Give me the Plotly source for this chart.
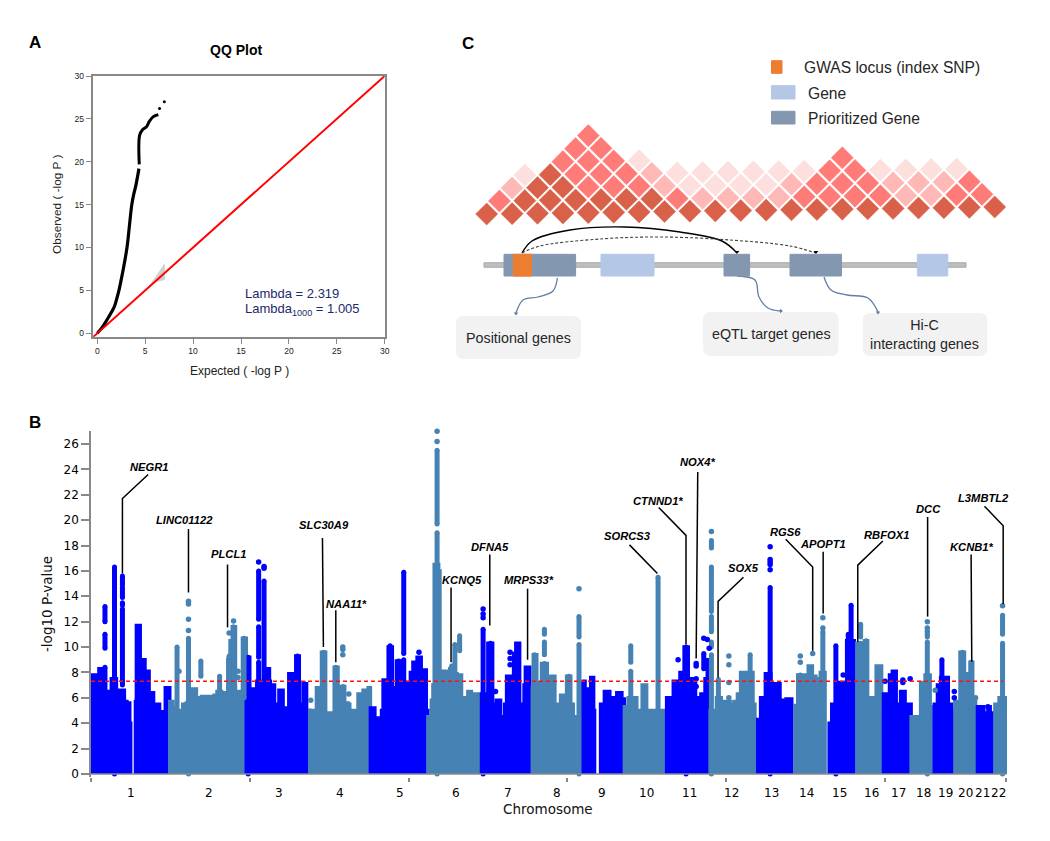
import plotly.graph_objects as go

BLUE = "#0000FF"
STEEL = "#4682B4"
SANS = "Liberation Sans"
DEJA = "DejaVu Sans"

# ---------- Panel A: QQ ----------
QQ_EXPECTED = [0, 0.45, 1.0, 1.4, 1.78, 2.0, 2.26, 2.45, 2.7, 3.1, 3.35, 3.6, 3.8, 4.0, 4.35]
QQ_OBSERVED = [0, 0.6, 1.55, 2.3, 3.1, 3.9, 5.0, 6.0, 7.4, 10, 12.5, 15, 16.2, 17.1, 19.2]
QQ_EXPECTED_B = [4.38, 4.42, 4.7, 5.15, 5.43, 5.85, 6.37]
QQ_OBSERVED_B = [19.7, 23.1, 23.7, 24.1, 24.7, 25.26, 25.5]
QQ_TAIL_X = [6.5, 7.0]
QQ_TAIL_Y = [26.2, 27.0]
CI_X = [5.2, 6.2, 7.05, 7.05, 6.2, 5.2]
CI_Y = [5.2, 6.8, 8.2, 6.2, 6.0, 5.2]
REF_X = [-0.48, 30]
REF_Y = [-0.48, 30]

# ---------- Panel B: Manhattan (Mb along the genome, -log10 P) ----------
GWS = 7.3
Y_TICKS = list(range(0, 28, 2))
X_TICKS = [0, 500, 1000, 1500, 2000, 2500, 2883]
CHR_NAMES = [str(i) for i in range(1, 23)]
CHR_MID = [125, 371, 592, 785, 972, 1149, 1314, 1467, 1610, 1750, 1885, 2018,
           2144, 2255, 2359, 2457, 2542, 2622, 2692, 2753, 2808, 2857]

# upper edge of the dense cloud: each height holds from its position to the next one
CHR1A_X = [0, 2, 15, 25, 36, 50, 64, 80, 105, 113, 122, 125]
CHR1A_Y = [4.5, 7.8, 5.0, 8.3, 6.2, 6.5, 7.5, 6.6, 5.7, 5.6, 4, 3]
CHR1B_X = [140, 143, 155, 170, 183, 197, 216, 234, 248]
CHR1B_Y = [5.7, 11.7, 9, 8.1, 6.4, 5.5, 4.9, 6.8, 5]
CHR2_X = [248, 258, 265, 279, 289, 300, 313, 332, 348, 382, 388, 397, 411, 421, 431, 438, 445, 455, 468, 477, 489]
CHR2_Y = [5.7, 5.2, 5.0, 4.9, 5.5, 5.6, 6.7, 6.0, 6.1, 5.2, 6.2, 6.5, 6.1, 6.4, 9.0, 10.5, 11.6, 6.5, 6.1, 10.7, 6]
CHR3_X = [489, 500, 515, 522, 547, 562, 565, 578, 586, 592, 605, 623, 636, 645, 656, 668, 679, 689]
CHR3_Y = [9.2, 6.7, 6.2, 7.3, 8.3, 7.3, 7.0, 5.5, 3.8, 6.6, 5.2, 7.9, 5.3, 9.3, 5.5, 7.1, 5.0, 5.0]
CHR4_X = [689, 700, 710, 726, 739, 747, 760, 766, 778, 789, 799, 810, 815, 830, 841, 857, 873, 880]
CHR4_Y = [5, 4.4, 6.8, 9.6, 4.5, 4.8, 3.5, 8.4, 5.5, 6.9, 5.6, 5.5, 5, 4, 6.3, 6.6, 6.8, 5]
CHR5_X = [880, 894, 899, 915, 920, 936, 949, 951, 962, 975, 979, 991, 998, 1006, 1014, 1027, 1040, 1043, 1056, 1061]
CHR5_Y = [5.2, 4.2, 4.4, 5, 7.4, 10.0, 5.8, 6.8, 8.9, 6.2, 7, 7.2, 7.0, 8, 8.8, 9.2, 7.5, 8.2, 5, 5]
CHR6_X = [1061, 1072, 1077, 1081, 1095, 1099, 1105, 1120, 1125, 1130, 1141, 1153, 1167, 1177, 1187, 1198, 1208, 1222, 1230]
CHR6_Y = [4.5, 5.8, 7, 16.5, 16, 7, 8.1, 4.5, 6.3, 8.3, 7.9, 7.8, 6, 5.5, 6.5, 5.5, 6.3, 5.8, 5.8]
CHR7_X = [1230, 1240, 1250, 1265, 1277, 1290, 1303, 1309, 1324, 1331, 1338, 1350, 1361, 1364, 1368, 1382, 1390]
CHR7_Y = [6.3, 6.3, 10.3, 5.5, 5.8, 4.5, 5.5, 7.7, 5, 9.5, 10.3, 5.5, 5, 7, 8.4, 5, 5]
CHR8_X = [1390, 1393, 1404, 1419, 1437, 1461, 1472, 1479, 1493, 1498, 1511, 1519, 1535]
CHR8_Y = [6.8, 9.4, 7.2, 8.7, 7.7, 5.2, 5.5, 6.2, 5, 7.7, 5.5, 4.5, 4.5]
CHR9A_X = [1538, 1552, 1556, 1570, 1574, 1583, 1586]
CHR9A_Y = [7.2, 7.3, 6.7, 6.6, 7.6, 5, 5]
CHR9B_X = [1605, 1617, 1634, 1656, 1672, 1680]
CHR9B_Y = [5.5, 6.5, 6.0, 6.4, 5.9, 5.9]
CHR10_X = [1680, 1692, 1719, 1736, 1750, 1813]
CHR10_Y = [5.3, 6, 5, 7, 5, 5]
CHR11_X = [1813, 1824, 1834, 1855, 1868, 1881, 1890, 1904, 1913, 1921, 1934, 1941, 1950]
CHR11_Y = [6, 4.5, 7.3, 8, 10, 7.4, 7.5, 6, 5, 6.3, 7.5, 9, 9]
CHR12_X = [1950, 1960, 1970, 1985, 1996, 2013, 2025, 2036, 2046, 2057, 2068, 2085, 2091]
CHR12_Y = [5, 4.5, 6, 4.5, 5.7, 5.5, 5.7, 6.3, 8, 7, 8, 5.5, 5.5]
CHR13_X = [2100, 2109, 2121, 2124, 2141, 2149, 2170, 2181, 2189, 2207]
CHR13_Y = [4.3, 6, 5.8, 7.9, 6.5, 7.1, 5.8, 5.5, 5.9, 5.9]
CHR14_X = [2217, 2226, 2249, 2259, 2272, 2283, 2288, 2297, 2312]
CHR14_Y = [5.4, 7.8, 5, 8.5, 7.7, 6.5, 7.5, 8, 8]
CHR15_X = [2325, 2333, 2351, 2357, 2377, 2380, 2404, 2412]
CHR15_Y = [4, 5.5, 6, 7.2, 6.5, 10.5, 9, 9]
CHR16_X = [2412, 2433, 2436, 2446, 2451, 2459, 2473, 2490, 2496]
CHR16_Y = [10.3, 6.3, 10.5, 6, 4, 6, 8.5, 5, 5]
CHR17_X = [2496, 2512, 2515, 2524, 2536, 2550, 2564, 2574, 2583]
CHR17_Y = [6.3, 6, 7.8, 8.1, 5.5, 6.5, 5, 5.5, 5.5]
CHR18_X = [2583, 2606, 2613, 2627, 2643, 2650, 2656]
CHR18_Y = [4.5, 4.3, 7.2, 7.8, 5.3, 4.4, 4.4]
CHR19_X = [2656, 2666, 2676, 2700, 2711, 2721]
CHR19_Y = [5.5, 7, 7.6, 5.5, 5, 5]
CHR20_X = [2721, 2737, 2751, 2756, 2769, 2777, 2786, 2792]
CHR20_Y = [5.7, 9.6, 5.7, 7.9, 8.8, 6, 5, 5]
CHR21_X = [2792, 2812, 2825, 2832, 2838]
CHR21_Y = [5.3, 4.8, 5.3, 4.8, 4.8]
CHR22_X = [2847, 2860, 2887]
CHR22_Y = [5.5, 6, 6]

SKYLINES = [
    (CHR1A_X, CHR1A_Y, BLUE), (CHR1B_X, CHR1B_Y, BLUE), (CHR2_X, CHR2_Y, STEEL),
    (CHR3_X, CHR3_Y, BLUE), (CHR4_X, CHR4_Y, STEEL), (CHR5_X, CHR5_Y, BLUE),
    (CHR6_X, CHR6_Y, STEEL), (CHR7_X, CHR7_Y, BLUE), (CHR8_X, CHR8_Y, STEEL),
    (CHR9A_X, CHR9A_Y, BLUE), (CHR9B_X, CHR9B_Y, BLUE), (CHR10_X, CHR10_Y, STEEL),
    (CHR11_X, CHR11_Y, BLUE), (CHR12_X, CHR12_Y, STEEL), (CHR13_X, CHR13_Y, BLUE),
    (CHR14_X, CHR14_Y, STEEL), (CHR15_X, CHR15_Y, BLUE), (CHR16_X, CHR16_Y, STEEL),
    (CHR17_X, CHR17_Y, BLUE), (CHR18_X, CHR18_Y, STEEL), (CHR19_X, CHR19_Y, BLUE),
    (CHR20_X, CHR20_Y, STEEL), (CHR21_X, CHR21_Y, BLUE), (CHR22_X, CHR22_Y, STEEL),
]

# association columns: position, lowest and highest -log10 P of a continuous run
ODD_COL_X = [44, 44, 44, 74, 99, 99, 99, 99, 495, 528, 528, 528, 545, 650, 673, 942, 969, 985, 985,
             1235, 1258, 1874, 1930, 2139, 2346, 2385, 2394, 2680]
ODD_COL_LO = [6, 9.9, 12, 0, 7, 13.3, 13.9, 14.9, 0, 7, 9.2, 12.2, 7, 5, 5, 4, 5, 6, 9.5,
              0, 6, 0, 8.3, 0, 0, 5, 5, 5]
ODD_COL_HI = [8.4, 11, 13.2, 16.3, 13, 13.5, 14.7, 15.6, 9.2, 8.8, 11.6, 16.0, 15.2, 9.3, 7.1, 10.1, 8.9, 9, 15.9,
              11.4, 10.3, 10, 9.5, 14.7, 10.1, 11, 13.3, 9.0]
EVEN_COL_X = [271, 307, 346, 405, 435, 449, 482, 733, 771, 794, 1090, 1090, 1136, 1146, 1161, 1161,
              1397, 1428, 1428, 1428, 1505, 1537, 1537, 1700, 1700, 1786, 1954, 1954, 1954, 1954, 1954, 1976, 2076,
              2234, 2305, 2424, 2424, 2441, 2634, 2634, 2745, 2772, 2871, 2871]
EVEN_COL_LO = [5, 0, 7.7, 6, 6, 6, 6, 5, 5, 5, 0, 19.7, 6.5, 7.9, 9.7, 10.4,
               6.8, 6, 9.4, 11, 5, 0, 10.8, 6, 8.8, 5, 0, 10, 11.2, 12.8, 17.8, 6, 6,
               7, 6, 6, 10.8, 6, 0, 10.8, 5, 5, 0, 11]
EVEN_COL_HI = [10, 10.7, 8.9, 7.7, 9.3, 11.6, 10.7, 9.6, 8.4, 6.9, 19, 25.5, 8.5, 10.2, 10.3, 10.9,
               9.4, 8.7, 10.4, 11.4, 7.7, 10.2, 12.4, 8.1, 10.1, 15.5, 9.4, 10.4, 12.4, 16.3, 18.4, 7.45, 9.4,
               7.8, 11.2, 10.3, 11.8, 10.5, 10.4, 11, 9.6, 8.8, 10.3, 12.5]

# isolated SNPs
ODD_DOT_X = [528, 545, 545, 1033, 1235, 1235, 1235, 1320, 1320, 1320, 1274, 1849, 1906, 1906, 1906, 1906,
             1930, 1941, 1947, 2139, 2139, 2139, 2139, 2139, 2369, 2501, 2557, 2557, 2580, 2719, 2719, 2825]
ODD_DOT_Y = [16.7, 16.2, 16.35, 9.6, 12.3, 12.6, 13, 8.6, 9.1, 9.6, 6.5, 9.0, 6.9, 7.5, 8.5, 8.7,
             10.7, 10.6, 9.9, 16.1, 16.5, 16.7, 16.9, 17.9, 7.8, 7.3, 7.2, 7.4, 7.5, 6, 6.5, 5.3]
EVEN_DOT_X = [277, 307, 307, 307, 307, 435, 449, 463, 463, 692, 793, 793, 793, 812, 1090, 1090,
              1537, 1954, 2009, 2009, 2009, 2009, 2234, 2234, 2273, 2305, 2305, 2634, 2634, 2634, 2659, 2786, 2871]
EVEN_DOT_Y = [8.1, 11.3, 12.2, 13.4, 13.6, 11.1, 12.05, 7.6, 8.1, 5.8, 9.4, 9.8, 10.0, 6.3, 26.2, 27,
              14.6, 19.1, 6, 7.2, 8.6, 9.3, 8.8, 9.3, 9.5, 11.5, 12.3, 11.2, 11.5, 12.0, 6.6, 6, 13.25]

GENE_NAMES = ["NEGR1", "LINC01122", "PLCL1", "SLC30A9", "NAA11*", "KCNQ5", "DFNA5", "MRPS33*",
              "SORCS3", "CTNND1*", "NOX4*", "SOX5", "RGS6", "APOPT1", "RBFOX1", "DCC", "KCNB1*", "L3MBTL2"]
GENE_X = [183, 296, 433, 734, 806, 1167, 1258, 1378, 1691, 1787, 1910, 2055, 2187, 2307, 2504, 2637, 2775, 2812]
GENE_Y = [24.15, 20.0, 17.35, 19.6, 13.4, 15.3, 17.9, 15.3, 18.75, 21.5, 24.6, 16.2, 19.05, 18.15, 18.8, 20.85, 17.9, 21.75]
LEADER_X = [[180, 99, 99], [307, 307], [430, 430], [729, 732], [771, 771], [1134, 1134], [1256, 1256], [1375, 1375],
            [1696, 1784], [1788, 1874, 1874], [1911, 1906], [2055, 1975, 1975], [2188, 2273, 2273], [2306, 2306],
            [2494, 2415, 2415], [2635, 2635], [2772, 2774], [2814, 2873, 2873]]
LEADER_Y = [[23.6, 21.7, 15.8], [19.3, 14.3], [16.5, 11.55], [18.6, 10], [12.9, 8.8], [14.7, 8.8], [17.3, 11.7], [14.6, 9],
            [18.05, 15.8], [21, 18.8, 10.2], [23.8, 9.1], [15.5, 13.6, 7.6], [18.5, 16.3, 9.7], [17.5, 12.65],
            [18.35, 16.45, 10.4], [20.25, 12.4], [17.3, 8.85], [21.1, 19.55, 13.4]]

# ---------- Panel C: LD triangle levels, rows from the bottom, 0=palest ... 3=darkest ----------
LD_ROW0 = [3] * 21
LD_ROW1 = [2, 3, 3, 3, 3, 3, 3, 2, 1, 1, 1, 1, 2, 2, 2, 2, 1, 1, 2, 2]
LD_ROW2 = [1, 3, 3, 2, 2, 2, 1, 0, 0, 0, 0, 1, 2, 2, 2, 1, 1, 1, 2]
LD_ROW3 = [0, 3, 2, 2, 2, 1, 0, 0, 0, 0, 0, 0, 2, 2, 0, 0, 0, 0]
LD_ROW4 = [None, 2, 2, 2, 0, None, None, None, None, None, None, None, 2]
LD_ROW5 = [None, 2, 2]
LD_ROW6 = [None, 2]
LD_ROWS = [LD_ROW0, LD_ROW1, LD_ROW2, LD_ROW3, LD_ROW4, LD_ROW5, LD_ROW6]
LD_COLORS = ["#FDDFDE", "#FEB9B7", "#FE7B78", "#D9614A"]

fig = go.Figure()

# --- A ---
qq_axes = dict(xaxis="x", yaxis="y")
fig.add_trace(go.Scatter(x=CI_X, y=CI_Y, fill="toself", fillcolor="#CFCFCF", mode="none", **qq_axes))
fig.add_trace(go.Scatter(x=QQ_EXPECTED, y=QQ_OBSERVED, mode="lines", line=dict(color="black", width=3.2, shape="spline"), **qq_axes))
fig.add_trace(go.Scatter(x=QQ_EXPECTED_B, y=QQ_OBSERVED_B, mode="lines", line=dict(color="black", width=3, shape="spline"), **qq_axes))
fig.add_trace(go.Scatter(x=QQ_TAIL_X, y=QQ_TAIL_Y, mode="markers", marker=dict(color="black", size=3), **qq_axes))
fig.add_trace(go.Scatter(x=REF_X, y=REF_Y, mode="lines", line=dict(color="#FF0000", width=2), cliponaxis=False, **qq_axes))

# --- B ---
man_axes = dict(xaxis="x2", yaxis="y2")
for sx, sy, col in SKYLINES:
    fig.add_trace(go.Scatter(x=[sx[0]] + sx + [sx[-1]], y=[0] + sy + [0], mode="lines", fill="toself",
                             fillcolor=col, line=dict(color=col, width=3.5, shape="hv"), cliponaxis=False, **man_axes))


def columns(xs, los, his):
    cx, cy = [], []
    for x, lo, hi in zip(xs, los, his):
        cx += [x, x, None]
        cy += [lo, hi, None]
    return cx, cy


for xs, los, his, col in [(ODD_COL_X, ODD_COL_LO, ODD_COL_HI, BLUE), (EVEN_COL_X, EVEN_COL_LO, EVEN_COL_HI, STEEL)]:
    cx, cy = columns(xs, los, his)
    fig.add_trace(go.Scatter(x=cx, y=cy, mode="lines+markers", line=dict(color=col, width=5),
                             marker=dict(color=col, size=5), cliponaxis=False, **man_axes))
for xs, ys, col in [(ODD_DOT_X, ODD_DOT_Y, BLUE), (EVEN_DOT_X, EVEN_DOT_Y, STEEL)]:
    fig.add_trace(go.Scatter(x=xs, y=ys, mode="markers", marker=dict(color=col, size=5.5), cliponaxis=False, **man_axes))
fig.add_trace(go.Scatter(x=[0, 2872], y=[GWS, GWS], mode="lines", line=dict(color="#FF1010", width=1.5, dash="4px,3px"), **man_axes))
for lx, ly in zip(LEADER_X, LEADER_Y):
    fig.add_trace(go.Scatter(x=lx, y=ly, mode="lines", line=dict(color="black", width=1.5), **man_axes))

annotations = []
for name, gx, gy in zip(GENE_NAMES, GENE_X, GENE_Y):
    annotations.append(dict(x=gx, y=gy, xref="x2", yref="y2", text=f"<b><i>{name}</i></b>", showarrow=False,
                            font=dict(family=SANS, size=11.2, color="black")))
for name, mx in zip(CHR_NAMES, CHR_MID):
    annotations.append(dict(x=mx, y=1 - 793 / 841, xref="x2", yref="paper", text=name, showarrow=False, yanchor="middle",
                            font=dict(family=DEJA, size=12, color="black")))

# --- C: drawn on an overlay whose units are page pixels ---
cell_x, cell_y, cell_c = [], [], []
for r, row in enumerate(LD_ROWS):
    for c, level in enumerate(row):
        if level is None:
            continue
        cell_x.append(486.7 + 25.4 * (c + r / 2))
        cell_y.append(214 - 12.83 * r - 0.35 * (c + r / 2))
        cell_c.append(LD_COLORS[level])
ov = dict(xaxis="x3", yaxis="y3")
fig.add_trace(go.Scatter(x=cell_x, y=cell_y, mode="markers",
                         marker=dict(symbol="diamond", size=17, color=cell_c, line=dict(color=cell_c, width=0.5)), **ov))

GENE_LIGHT = "#B4C7E7"
GENE_DARK = "#8497B0"
ORANGE = "#ED7D31"
shapes = []


def rect(x0, y0, x1, y1, fill, edge=None):
    shapes.append(dict(type="rect", xref="x3", yref="y3", x0=x0, x1=x1, y0=y0, y1=y1, fillcolor=fill,
                       line=dict(color=edge or fill, width=1), layer="above"))


def rounded(x0, y0, x1, y1, fill, r=8):
    p = (f"M{x0+r},{y0} L{x1-r},{y0} Q{x1},{y0} {x1},{y0+r} L{x1},{y1-r} Q{x1},{y1} {x1-r},{y1} "
         f"L{x0+r},{y1} Q{x0},{y1} {x0},{y1-r} L{x0},{y0+r} Q{x0},{y0} {x0+r},{y0} Z")
    shapes.append(dict(type="path", xref="x3", yref="y3", path=p, fillcolor=fill, line=dict(width=0), layer="below"))


rect(484, 262.8, 966, 267.2, "#BFBFBF", "#A6A6A6")
for x0, x1, fill in [(504, 575.6, GENE_DARK), (513.3, 531.5, ORANGE), (601, 654, GENE_LIGHT),
                     (724, 749.6, GENE_DARK), (790, 841.5, GENE_DARK), (917.4, 947.8, GENE_LIGHT)]:
    rect(x0, 254.3, x1, 276, fill)
rect(771.5, 60.7, 782, 73.3, ORANGE)
rect(771.5, 85.7, 795, 99, GENE_LIGHT)
rect(771.5, 111.3, 795, 124, GENE_DARK)
rounded(456, 316, 581, 359, "#F2F2F2")
rounded(703, 312, 838.5, 356, "#F2F2F2")
rounded(862.6, 313, 987.4, 356, "#F2F2F2")

ARC_SOLID_X = [522, 532, 570, 625, 680, 722, 737]
ARC_SOLID_Y = [253, 241, 230, 227, 232, 241, 253]
ARC_DASH_X = [522, 540, 600, 662, 730, 790, 816]
ARC_DASH_Y = [253, 246, 239, 237, 240, 246, 253]
fig.add_trace(go.Scatter(x=ARC_SOLID_X, y=ARC_SOLID_Y, mode="lines", line=dict(color="black", width=1.4, shape="spline"), **ov))
fig.add_trace(go.Scatter(x=ARC_DASH_X, y=ARC_DASH_Y, mode="lines", line=dict(color="#404040", width=1.1, dash="3px,2px", shape="spline"), **ov))
fig.add_trace(go.Scatter(x=[737, 816], y=[252, 252], mode="markers", marker=dict(symbol="triangle-down", color="black", size=4), **ov))

CURVE1_X = [557.4, 553, 538, 523, 516]
CURVE1_Y = [278, 291, 297, 300, 313]
CURVE2_X = [737, 755, 759, 768, 780]
CURVE2_Y = [276, 280, 297, 308, 311]
CURVE3_X = [824, 831, 847, 868, 878]
CURVE3_Y = [277, 290, 295, 298, 312]
for cx, cy in [(CURVE1_X, CURVE1_Y), (CURVE2_X, CURVE2_Y), (CURVE3_X, CURVE3_Y)]:
    fig.add_trace(go.Scatter(x=cx, y=cy, mode="lines", line=dict(color="#5F7FA3", width=1.3, shape="spline"), **ov))
fig.add_trace(go.Scatter(x=[516, 878], y=[313.5, 312.5], mode="markers", marker=dict(symbol="triangle-down", color="#5F7FA3", size=4), **ov))
fig.add_trace(go.Scatter(x=[781], y=[311], mode="markers", marker=dict(symbol="triangle-right", color="#5F7FA3", size=4), **ov))


def text(x, y, s, size=14.3, color="#262626", family=SANS, xa="center", **kw):
    annotations.append(dict(x=x, y=y, xref="x3", yref="y3", text=s, showarrow=False, xanchor=xa, yanchor="middle",
                            font=dict(family=family, size=size, color=color), **kw))


text(802, 67, "GWAS locus (index SNP)", xa="left", size=15.6)
text(805.5, 93, "Gene", xa="left", size=15.6)
text(805.5, 118, "Prioritized Gene", xa="left", size=15.6)
text(518.5, 338, "Positional genes")
text(771, 334, "eQTL target genes")
text(924.5, 334, "Hi-C<br>interacting genes")
text(35, 42, "<b>A</b>", size=17, color="black")
text(35, 422, "<b>B</b>", size=17, color="black")
text(468, 43, "<b>C</b>", size=17, color="black")
text(236, 50, "<b>QQ Plot</b>", size=14, color="black")
text(239, 371, "Expected ( -log P )", size=12, color="#222222")
text(57, 204, "Observed ( -log P )", size=11.8, color="#222222", textangle=-90)
text(243, 293, "Lambda = 2.319", size=13, color="#1B2A6B", xa="left")
text(243, 309, "Lambda<sub>1000</sub> = 1.005", size=13, color="#1B2A6B", xa="left")
text(47, 604, "-log10 P-value", size=13.5, color="#111111", family=DEJA, textangle=-90)
text(548, 809, "Chromosome", size=13.5, color="#111111", family=DEJA)

# x-axis baseline over the points
shapes.append(dict(type="line", xref="x2", yref="y2", x0=0, x1=2883, y0=0, y1=0, line=dict(color="#888888", width=1.6), layer="above"))

W, H = 1050, 841
GRAY = "#888888"
qq_tick = dict(tickmode="array", tickvals=[0, 5, 10, 15, 20, 25, 30], ticks="outside", ticklen=5, tickwidth=1, tickcolor=GRAY,
               showgrid=False, zeroline=False, showline=True, mirror=True, linecolor=GRAY, linewidth=2,
               tickfont=dict(family=SANS, size=8.5, color="#222222"))
fig.update_layout(
    width=W, height=H, margin=dict(l=0, r=0, t=0, b=0, autoexpand=False), showlegend=False,
    paper_bgcolor="white", plot_bgcolor="rgba(0,0,0,0)",
    annotations=annotations, shapes=shapes,
    xaxis=dict(domain=[92.7 / W, 384.7 / W], range=[-0.48, 30], anchor="y", **qq_tick),
    yaxis=dict(domain=[1 - 336.7 / H, 1 - 76 / H], range=[-0.4, 30], anchor="x", **qq_tick),
    xaxis2=dict(domain=[91 / W, 1007 / W], range=[0, 2885], anchor="y2", tickmode="array", tickvals=X_TICKS, ticktext=[""] * len(X_TICKS),
                ticks="outside", ticklen=4, tickwidth=1.5, tickcolor=GRAY, showgrid=False, zeroline=False, showline=False),
    yaxis2=dict(domain=[1 - 776.5 / H, 1 - 431.3 / H], range=[-0.2, 27], anchor="x2", tickmode="array", tickvals=Y_TICKS,
                ticks="outside", ticklen=8, tickwidth=1.5, tickcolor=GRAY, showgrid=False, zeroline=False, showline=True,
                linecolor=GRAY, linewidth=1.5, tickfont=dict(family=DEJA, size=12, color="black")),
    xaxis3=dict(domain=[0, 1], range=[0, W], anchor="y3", visible=False, fixedrange=True),
    yaxis3=dict(domain=[0, 1], range=[H, 0], anchor="x3", visible=False, fixedrange=True),
)

fig.write_html("out.html", config={"displayModeBar": False}, post_script="document.body.style.margin='0';")
